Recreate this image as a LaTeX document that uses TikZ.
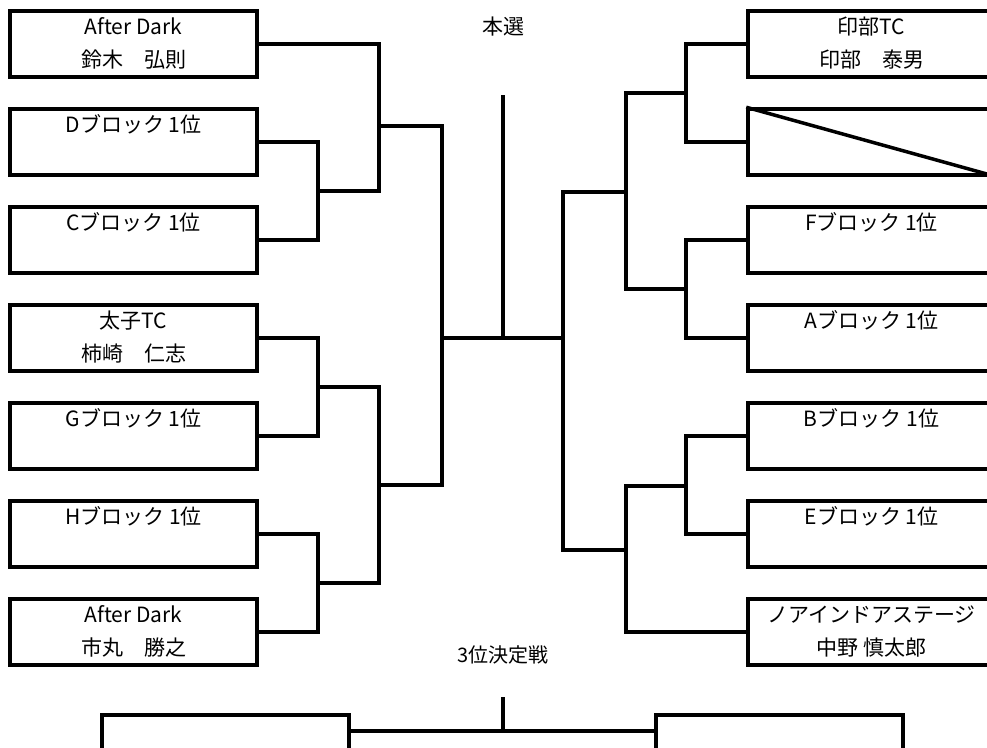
\documentclass[tikz,border=0pt]{standalone}
\usepackage{fontspec}
\setmainfont{Noto Sans CJK JP}
\newcommand{\cardtext}[2]{#1\strut\\#2\strut}

\begin{document}
\begin{tikzpicture}[x=1pt,y=-1pt,
    team/.style={draw, line width=3.5pt, minimum width=247pt, minimum height=66pt,
      inner sep=0pt, align=center, font=\fontsize{21}{33}\selectfont},
    bracket/.style={line width=3.5pt},
    heading/.style={font=\fontsize{21}{30}\selectfont}]
            \useasboundingbox (0,0) rectangle (987,747);
            \clip (0,0) rectangle (987,747);
            % left half
            \node[team] (L1) at (133.5,44) {\cardtext{After Dark}{鈴木　弘則}};
            \node[team] (L2) at (133.5,142) {\cardtext{Dブロック 1位}{}};
            \node[team] (L3) at (133.5,240) {\cardtext{Cブロック 1位}{}};
            \node[team] (L4) at (133.5,338) {\cardtext{太子TC}{柿崎　仁志}};
            \node[team] (L5) at (133.5,436) {\cardtext{Gブロック 1位}{}};
            \node[team] (L6) at (133.5,534) {\cardtext{Hブロック 1位}{}};
            \node[team] (L7) at (133.5,632) {\cardtext{After Dark}{市丸　勝之}};
            % right half
            \node[team] (R1) at (871.5,44) {\cardtext{印部TC}{印部　泰男}};
            \node[team] (R2) at (871.5,142) {};
            \node[team] (R3) at (871.5,240) {\cardtext{Fブロック 1位}{}};
            \node[team] (R4) at (871.5,338) {\cardtext{Aブロック 1位}{}};
            \node[team] (R5) at (871.5,436) {\cardtext{Bブロック 1位}{}};
            \node[team] (R6) at (871.5,534) {\cardtext{Eブロック 1位}{}};
            \node[team] (R7) at (871.5,632) {\cardtext{ノアインドアステージ}{中野 慎太郎}};
            \draw[bracket] (R2.north west)--(R2.south east);
            % titles
            \node[heading] (final) at (503,27) {本選};
            \node[heading,font=\fontsize{20}{30}\selectfont] (bronze) at (503,655) {3位決定戦};
            % left joints
            \coordinate (jl23) at (318,191);
            \coordinate (jl123) at (379,126);
            \coordinate (jl45) at (318,387);
            \coordinate (jl67) at (318,583);
            \coordinate (jl47) at (379,485);
            \coordinate (jleft) at (442,338);
            \draw[bracket] (L2.east) -| (jl23) |- (L3.east);
            \draw[bracket] (L1.east) -| (jl123) -- (jl123 |- jl23) -- (jl23);
            \draw[bracket] (L4.east) -| (jl45) |- (L5.east);
            \draw[bracket] (L6.east) -| (jl67) |- (L7.east);
            \draw[bracket] (jl45) -| (jl47) |- (jl67);
            \draw[bracket] (jl123) -| (jleft) |- (jl47);
            % right joints
            \coordinate (jr12) at (686,93);
            \coordinate (jr34) at (686,289);
            \coordinate (jr14) at (626,192);
            \coordinate (jr56) at (686,486);
            \coordinate (jr57) at (626,550);
            \coordinate (jright) at (563,338);
            \draw[bracket] (R1.west) -| (jr12) |- (R2.west);
            \draw[bracket] (R3.west) -| (jr34) |- (R4.west);
            \draw[bracket] (jr12) -| (jr14) |- (jr34);
            \draw[bracket] (R5.west) -| (jr56) |- (R6.west);
            \draw[bracket] (jr56) -| (jr57) |- (R7.west);
            \draw[bracket] (jr14) -| (jright) |- (jr57);
            % final
            \coordinate (jfinal) at (503,338);
            \coordinate (champ) at (503,95);
            \draw[bracket] (jleft) -- (jright);
            \draw[bracket] (jfinal) -- (champ);
            % third place
            \node[team] (B1) at (225.5,748) {};
            \node[team] (B2) at (779.5,748) {};
            \coordinate (jthird) at (503,731);
            \coordinate (third) at (503,697);
            \draw[bracket] (B1.east |- jthird) -- (B2.west |- jthird);
            \draw[bracket] (jthird) -- (third);
        \end{tikzpicture}
\end{document}
